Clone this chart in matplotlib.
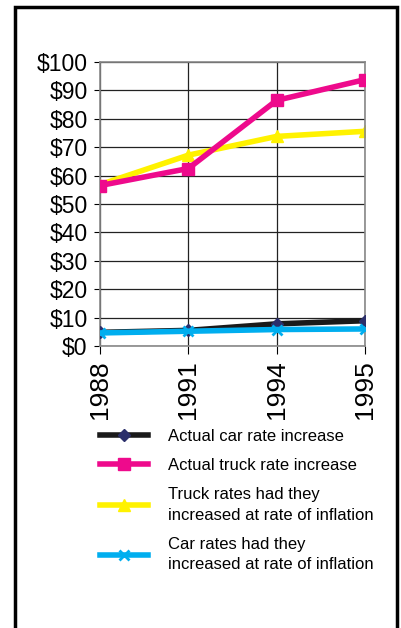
import matplotlib
matplotlib.use('Agg')
import matplotlib.pyplot as plt
from matplotlib.patches import Rectangle
from matplotlib.ticker import FuncFormatter

plt.rcParams['font.family'] = ['Liberation Sans', 'DejaVu Sans']

years = ['1988', '1991', '1994', '1995']
car_actual = [4.8, 5.5, 7.8, 8.9]
truck_actual = [56.5, 62.5, 86.5, 93.8]
truck_inflation = [56.8, 67.2, 73.8, 75.6]
car_inflation = [4.6, 5.2, 5.8, 6.0]

fig = plt.figure(figsize=(4.01, 6.28), dpi=100)
ax = fig.add_axes([100 / 401, 1 - 346 / 628, 265 / 401, 284 / 628])

x = range(len(years))
ax.plot(x, car_actual, color='#1a1a1a', lw=4, marker='D', ms=6,
        mfc='#2b2f6b', mec='#2b2f6b', label='Actual car rate increase', zorder=3)
ax.plot(x, truck_actual, color='#ee0a8c', lw=4, marker='s', ms=8,
        label='Actual truck rate increase', zorder=3)
ax.plot(x, truck_inflation, color='#fff200', lw=4, marker='^', ms=8,
        label='Truck rates had they\nincreased at rate of inflation', zorder=2)
ax.plot(x, car_inflation, color='#00aeef', lw=4, marker='x', ms=7, mew=2,
        label='Car rates had they\nincreased at rate of inflation', zorder=4)

ax.set_xlim(0, 3)
ax.set_ylim(0, 100)
ax.set_xticks(list(x))
ax.set_xticklabels(years, rotation=90, fontsize=19)
ax.set_yticks(range(0, 101, 10))
ax.yaxis.set_major_formatter(FuncFormatter(lambda v, p: f'${v:.0f}'))
ax.tick_params(axis='y', labelsize=16.5, length=4, pad=5)
ax.tick_params(axis='x', length=6, pad=4)
ax.grid(True, color='#222222', lw=0.9)
for s in ax.spines.values():
    s.set_color('#888888')
    s.set_linewidth(1.2)

leg = fig.legend(loc='upper left', bbox_to_anchor=(100 / 401, 1 - 429 / 628),
                 frameon=False, fontsize=12, handlelength=2.9, labelspacing=0.85,
                 handletextpad=1.15, borderpad=0, borderaxespad=0)
for t in leg.get_texts():
    t.set_linespacing(1.45)

# frame around the figure
fig.patches.append(Rectangle((15 / 401, -0.05), 382 / 401, 1.05 - 7 / 628,
                             transform=fig.transFigure, fill=False,
                             lw=2.5, ec='black', clip_on=False))

fig.savefig('out.png', dpi=100)
